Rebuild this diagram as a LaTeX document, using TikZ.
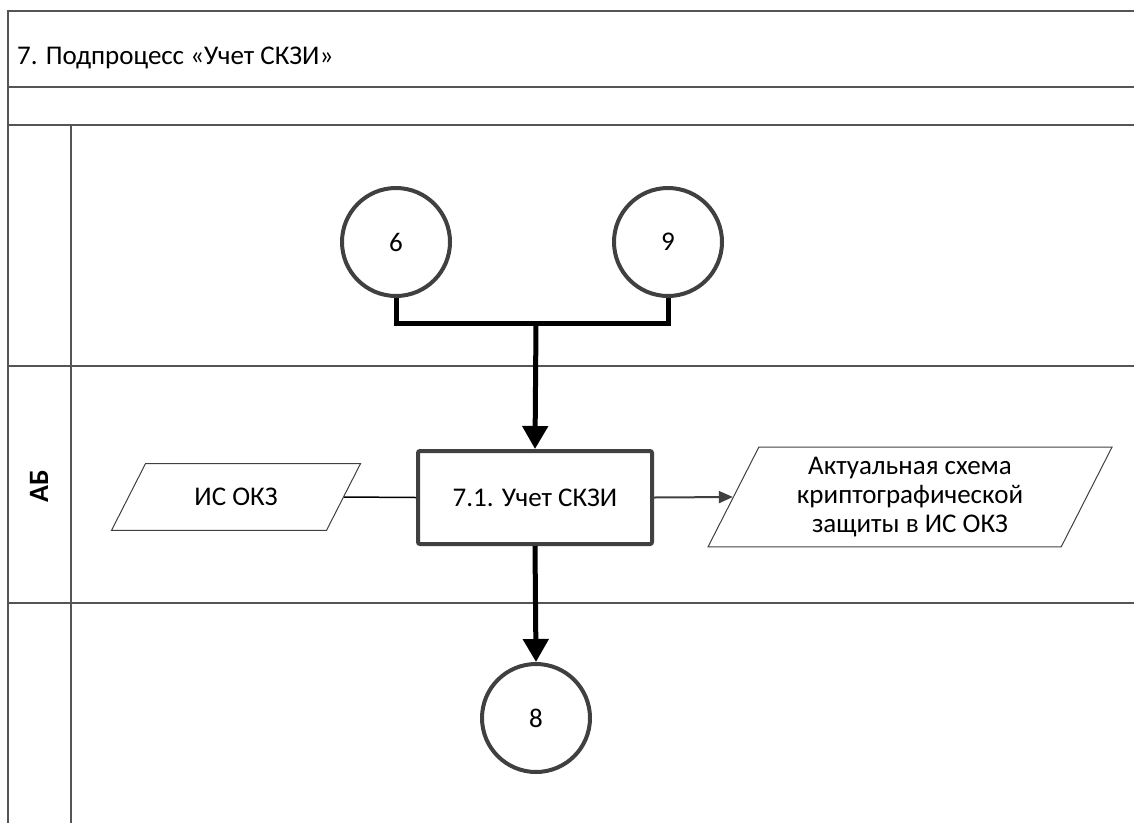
\documentclass[tikz,border=0pt]{standalone}
\usepackage{fontspec}
\setmainfont{Carlito}
\usetikzlibrary{arrows.meta,shapes.geometric}
\definecolor{edgegray}{HTML}{404040}
\definecolor{lanegray}{HTML}{555555}

\begin{document}
\begin{tikzpicture}[x=1pt,y=1pt,
  every node/.style={font=\fontsize{27}{29}\selectfont, inner sep=0pt},
  lane/.style={draw=lanegray, line width=2pt},
  lanename/.style={rotate=90, font=\fontsize{28}{29}\selectfont\bfseries},
  offpage/.style={circle, draw=edgegray, line width=4pt, minimum size=108pt},
  task/.style={draw=edgegray, line width=4pt, rounded corners=2pt,
    minimum width=234pt, minimum height=93pt},
  data/.style={trapezium, draw=edgegray, line width=1pt,
    trapezium left angle=63, trapezium right angle=117,
    trapezium stretches body, align=center},
  bus/.style={line width=5pt},
  flow/.style={bus, -{Triangle[width=25pt,length=23pt]}},
  link/.style={line width=1.5pt},
  result/.style={draw=edgegray, line width=2pt, -{Triangle[width=12pt,length=14pt]}}
]
\useasboundingbox (0,0) rectangle (1134,-822);
% pool and lanes
\draw [lane, line width=2.5pt] (8,-830) -- (8,-11) -- (1140,-11);
\draw [lane] (8,-87) -- (1140,-87);
\draw [lane] (8,-125) -- (1140,-125);
\draw [lane] (71,-125) -- (71,-830);
\draw [lane] (8,-366) -- (1140,-366);
\draw [lane] (8,-603) -- (1140,-603);
\node [anchor=base west] (title) at (17,-64) {7. Подпроцесс «Учет СКЗИ»};
\node [lanename] (lane) at (39,-486) {АБ};
% shapes
\node [offpage] (c6) at (396,-242) {6};
\node [offpage] (c9) at (668,-242) {9};
\node [task] (task) at (535,-497.5) {7.1. Учет СКЗИ};
\node [offpage] (c8) at (536,-718) {8};
\node [data, inner ysep=24.5pt, minimum width=249pt] (in) at (236,-497) {ИС ОКЗ};
\node [data, inner ysep=10pt, minimum width=404pt] (out) at (910,-497)
  {Актуальная схема\\криптографической\\защиты в ИС ОКЗ};
% connectors
\coordinate (join) at (536,-323);
\draw [bus] (c6.south) |- (join) -| (c9.south);
\draw [flow] (join) -- (task.north);
\draw [flow] (task.south) -- (c8.north);
\draw [link] (in.east) -- (task.west);
\draw [result] (task.east) -- (out.west);
\end{tikzpicture}
\end{document}
